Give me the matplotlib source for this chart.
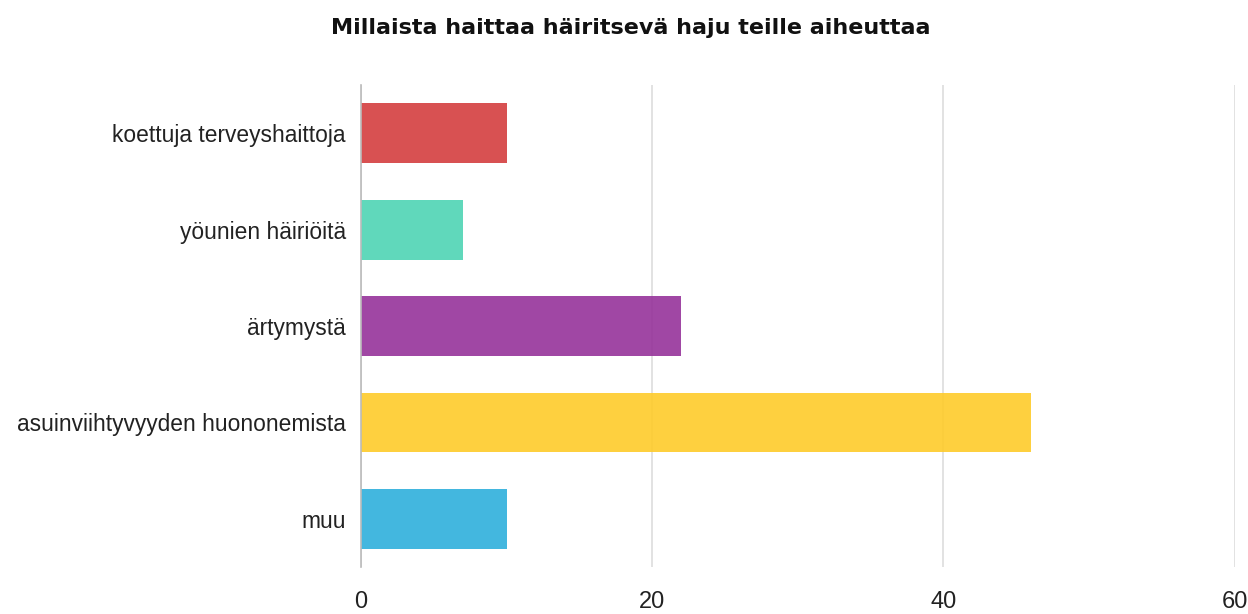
import matplotlib.pyplot as plt

categories = ["koettuja terveyshaittoja", "yöunien häiriöitä", "ärtymystä",
              "asuinviihtyvyyden huononemista", "muu"]
values = [10, 7, 22, 46, 10]
colors = ["#d43e3f", "#4fd4b4", "#96339a", "#fecb2a", "#2eb0dc"]
ticks = [0, 20, 40, 60]

plt.rcParams["font.family"] = ["Liberation Sans", "DejaVu Sans"]

fig = plt.figure(figsize=(12.48, 6.14), dpi=100)
ax = fig.add_axes([0.2893, 0.0765, 0.7, 0.785])

ypos = list(range(len(categories)))
ax.barh(ypos, values, height=0.62, color=colors, alpha=0.9, zorder=2)
ax.set_ylim(len(categories) - 0.5, -0.5)
ax.set_xlim(0, 60)
ax.set_xticks(ticks)
ax.set_xticklabels([str(t) for t in ticks], fontsize=17, color="#222222")
ax.set_yticks(ypos)
ax.set_yticklabels(categories, fontsize=16.4, color="#222222")
ax.tick_params(length=0)
ax.tick_params(axis="x", pad=17)
ax.tick_params(axis="y", pad=11)

ax.grid(axis="x", color="#dddddd", linewidth=1.2, zorder=1)
for s in ["top", "right", "bottom"]:
    ax.spines[s].set_visible(False)
ax.spines["left"].set_color("#bbbbbb")
ax.spines["left"].set_linewidth(1.2)
ax.spines["left"].set_zorder(3)

fig.text(0.5056, 0.955, "Millaista haittaa häiritsevä haju teille aiheuttaa",
         ha="center", va="center", fontsize=16, fontweight="bold",
         family=["DejaVu Sans"], color="#111111")

fig.savefig("out.png", dpi=100)
